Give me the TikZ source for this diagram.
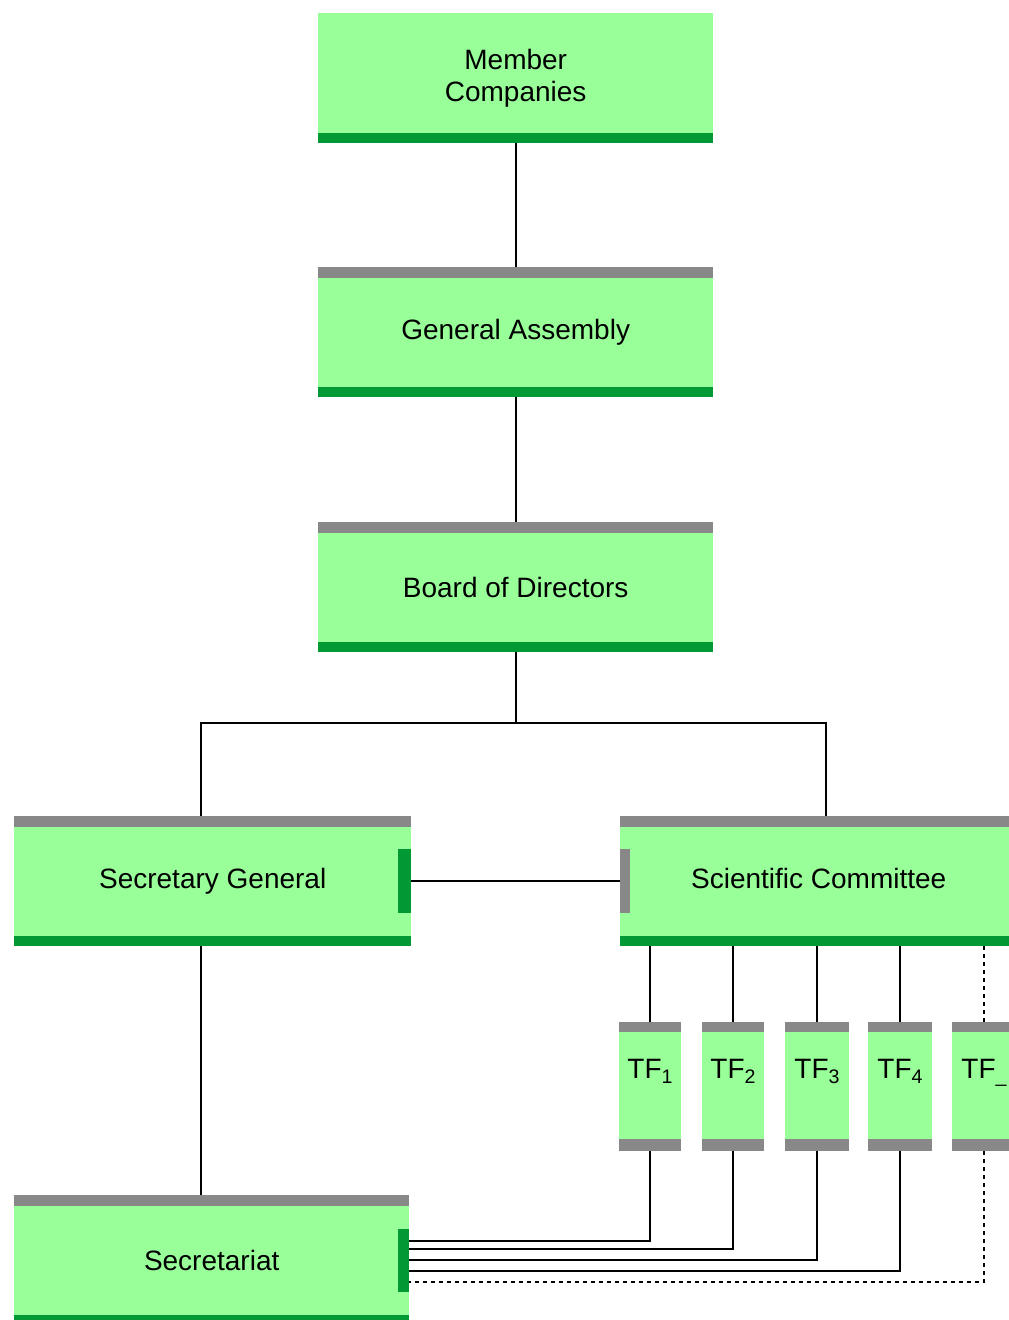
\documentclass[tikz,border=0pt]{standalone}
\usepackage{fontspec}
\setmainfont{Liberation Sans}
\definecolor{boxgreen}{HTML}{99FF99}
\definecolor{bardark}{HTML}{009933}
\definecolor{bargray}{HTML}{888888}
\begin{document}
\begin{tikzpicture}[x=1pt,y=-1pt,
  orgbox/.style={fill=boxgreen, inner sep=0pt, minimum width=395pt, minimum height=130pt,
    anchor=north west, align=center, font=\fontsize{28}{32}\selectfont},
  tfbox/.style={fill=boxgreen, inner sep=0pt, minimum height=129pt,
    anchor=north west, align=center, font=\fontsize{28}{32}\selectfont},
  conn/.style={draw=black, line width=1.6pt},
  dotconn/.style={draw=black, line width=1.8pt, dash pattern=on 4pt off 4pt}]
\useasboundingbox (0,0) rectangle (1009,1320);
\clip (0,0) rectangle (1009,1320);

% boxes
\node[orgbox] (mc) at (318,13) {Member\\Companies};
\node[orgbox] (ga) at (318,267) {General Assembly};
\node[orgbox] (bd) at (318,522) {Board of Directors};
\node[orgbox, minimum width=397pt] (sg) at (14,816) {Secretary General};
\node[orgbox, minimum width=397pt] (sc) at (620,816) {Scientific Committee\vphantom{y}};
\node[orgbox] (st) at (14,1195) {Secretariat};

\node[tfbox, minimum width=62pt] (tf1) at (619,1022) {TF\textsubscript{1}\\[4pt]};
\node[tfbox, minimum width=62pt] (tf2) at (702,1022) {TF\textsubscript{2}\\[4pt]};
\node[tfbox, minimum width=64pt] (tf3) at (785,1022) {TF\textsubscript{3}\\[4pt]};
\node[tfbox, minimum width=64pt] (tf4) at (868,1022) {TF\textsubscript{4}\\[4pt]};
\node[tfbox, minimum width=64pt] (tf5) at (952,1022) {TF\textsubscript{\_}\\[4pt]};

% bars of the big boxes
\fill[bardark] ([yshift=10pt]mc.south west) rectangle (mc.south east);
\foreach \b in {ga,bd,sg,sc,st}{
  \fill[bargray] (\b.north west) rectangle ([yshift=-11pt]\b.north east);
  \fill[bardark] ([yshift=10pt]\b.south west) rectangle (\b.south east);
}
\fill[bardark] ([xshift=-13pt,yshift=32pt]sg.east) rectangle ([yshift=-32pt]sg.east);
\fill[bargray] ([yshift=32pt]sc.west) rectangle ([xshift=10pt,yshift=-32pt]sc.west);
\fill[bardark] ([xshift=-11pt,yshift=31pt]st.east) rectangle ([yshift=-32pt]st.east);

% bars of the task forces
\foreach \b in {tf1,tf2,tf3,tf4,tf5}{
  \fill[bargray] (\b.north west) rectangle ([yshift=-10pt]\b.north east);
  \fill[bargray] ([yshift=12pt]\b.south west) rectangle (\b.south east);
}

% connectors
\coordinate (sgtop) at (201,816);
\coordinate (sgbot) at (201,946);
\coordinate (sttop) at (201,1195);
\coordinate (sctop) at (826,816);
\draw[conn] (mc.south) -- (ga.north);
\draw[conn] (ga.south) -- (bd.north);
\draw[conn] (bd.south) -- ++(0,71);
\draw[conn] (sgtop) -- ++(0,-93) -| (sctop);
\draw[conn] (sg.east) -- (sc.west);
\draw[conn] (sgbot) -- (sttop);

\foreach \t in {tf1,tf2,tf3,tf4}{
  \draw[conn] (\t.north) -- (\t.north |- sc.south);
}
\draw[dotconn] (tf5.north) -- (tf5.north |- sc.south);

\draw[conn] (tf1.south) |- ([yshift=19pt]st.east);
\draw[conn] (tf2.south) |- ([yshift=11pt]st.east);
\draw[conn] (tf3.south) |- (st.east);
\draw[conn] (tf4.south) |- ([yshift=-11pt]st.east);
\draw[dotconn] (tf5.south) |- ([yshift=-22pt]st.east);
\end{tikzpicture}
\end{document}
